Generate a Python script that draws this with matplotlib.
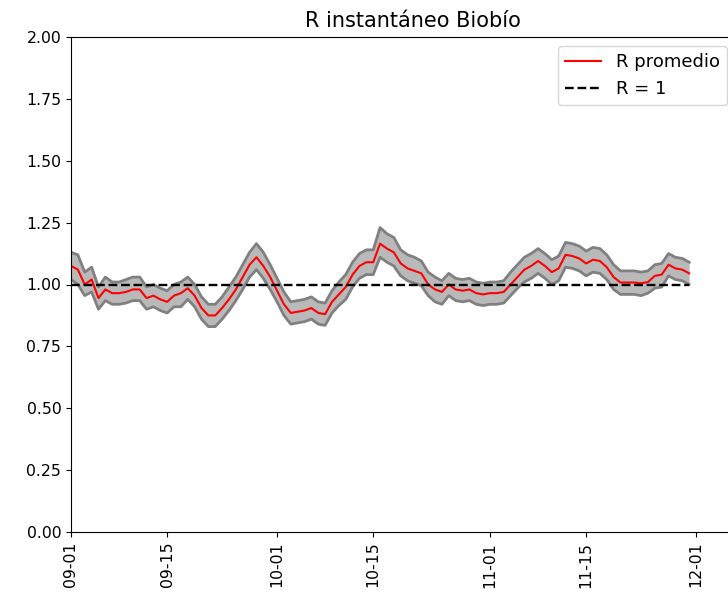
import matplotlib
matplotlib.use("Agg")
import matplotlib.pyplot as plt
import matplotlib.dates as mdates
import numpy as np
import pandas as pd

start_date = "2020-09-01"
r_mean = [1.075, 1.06, 1.00, 1.02, 0.945, 0.98, 0.965, 0.965, 0.97, 0.98,
          0.98, 0.945, 0.955, 0.94, 0.93, 0.955, 0.965, 0.985, 0.955, 0.905,
          0.875, 0.875, 0.905, 0.94, 0.98, 1.03, 1.08, 1.11, 1.075, 1.03,
          0.975, 0.92, 0.885, 0.89, 0.895, 0.905, 0.885, 0.88, 0.93, 0.96,
          0.99, 1.04, 1.075, 1.09, 1.09, 1.165, 1.145, 1.13, 1.085, 1.065,
          1.055, 1.045, 1.00, 0.98, 0.97, 1.00, 0.98, 0.975, 0.98, 0.965,
          0.96, 0.965, 0.965, 0.97, 1.00, 1.03, 1.06, 1.075, 1.095, 1.075,
          1.05, 1.065, 1.12, 1.115, 1.105, 1.085, 1.10, 1.095, 1.07, 1.03,
          1.008, 1.008, 1.008, 1.005, 1.01, 1.035, 1.04, 1.08, 1.065, 1.06,
          1.045]
r_upper = [1.13, 1.12, 1.05, 1.07, 0.99, 1.03, 1.01, 1.01, 1.02, 1.03,
           1.03, 0.99, 1.00, 0.985, 0.975, 1.00, 1.01, 1.03, 1.00, 0.95,
           0.92, 0.92, 0.95, 0.99, 1.03, 1.08, 1.13, 1.165, 1.13, 1.08,
           1.025, 0.97, 0.93, 0.935, 0.94, 0.95, 0.93, 0.925, 0.975, 1.01,
           1.04, 1.09, 1.125, 1.14, 1.14, 1.23, 1.205, 1.19, 1.14, 1.12,
           1.11, 1.095, 1.05, 1.03, 1.015, 1.045, 1.025, 1.02, 1.025, 1.01,
           1.005, 1.01, 1.01, 1.015, 1.05, 1.08, 1.11, 1.125, 1.145, 1.125,
           1.10, 1.115, 1.17, 1.165, 1.155, 1.135, 1.15, 1.145, 1.12, 1.08,
           1.055, 1.055, 1.055, 1.05, 1.055, 1.08, 1.085, 1.125, 1.11, 1.105,
           1.09]
r_lower = [1.02, 1.00, 0.955, 0.97, 0.90, 0.935, 0.92, 0.92, 0.925, 0.935,
           0.935, 0.90, 0.91, 0.895, 0.885, 0.91, 0.91, 0.94, 0.91, 0.86,
           0.83, 0.83, 0.86, 0.895, 0.935, 0.98, 1.03, 1.06, 1.025, 0.98,
           0.93, 0.875, 0.84, 0.845, 0.85, 0.86, 0.84, 0.835, 0.885, 0.915,
           0.94, 0.99, 1.025, 1.04, 1.04, 1.11, 1.09, 1.075, 1.035, 1.015,
           1.005, 0.995, 0.955, 0.93, 0.92, 0.955, 0.935, 0.93, 0.935, 0.92,
           0.915, 0.92, 0.92, 0.925, 0.955, 0.985, 1.01, 1.025, 1.045, 1.025,
           1.00, 1.015, 1.07, 1.065, 1.055, 1.035, 1.05, 1.045, 1.02, 0.98,
           0.96, 0.96, 0.96, 0.955, 0.965, 0.985, 0.99, 1.035, 1.02, 1.015,
           1.00]
ref_value = [1.0]
x_ticks = ["2020-09-01", "2020-09-15", "2020-10-01", "2020-10-15",
           "2020-11-01", "2020-11-15", "2020-12-01"]
x_limits = ["2020-09-01", "2020-12-09 14:00"]
y_ticks = [0.0, 0.25, 0.5, 0.75, 1.0, 1.25, 1.5, 1.75, 2.0]

dates = pd.date_range(start_date, periods=len(r_mean), freq="D")

fig = plt.figure(figsize=(7.28, 6.04), dpi=100)
ax = fig.add_axes([71 / 728, 1 - 532 / 604, 684 / 728, 495 / 604])

ax.fill_between(dates, r_lower, r_upper, color="#a8a8a8", alpha=0.8, linewidth=0)
ax.plot(dates, r_lower, color="gray", lw=2)
ax.plot(dates, r_upper, color="gray", lw=2)
ax.plot(dates, r_mean, color="red", lw=1.5, label="R promedio")
ax.plot(dates, ref_value * len(dates), "k--", lw=1.7, label="R = 1")

ax.set_ylim(0, 2)
ax.set_yticks(y_ticks)
ax.yaxis.set_major_formatter(matplotlib.ticker.FormatStrFormatter("%.2f"))
ax.set_xlim(pd.Timestamp(x_limits[0]), pd.Timestamp(x_limits[1]))
ax.set_xticks([pd.Timestamp(t) for t in x_ticks])
ax.xaxis.set_major_formatter(mdates.DateFormatter("%m-%d"))
ax.tick_params(axis="both", labelsize=11.3)
for lbl in ax.get_xticklabels():
    lbl.set_rotation(90)

ax.set_title("R instantáneo Biobío", fontsize=15, pad=7)
ax.legend(loc="upper right", fontsize=13,
          bbox_to_anchor=(727 / 728, 1 - 46 / 604),
          bbox_transform=fig.transFigure, borderaxespad=0)

fig.savefig("out.png", dpi=100)
